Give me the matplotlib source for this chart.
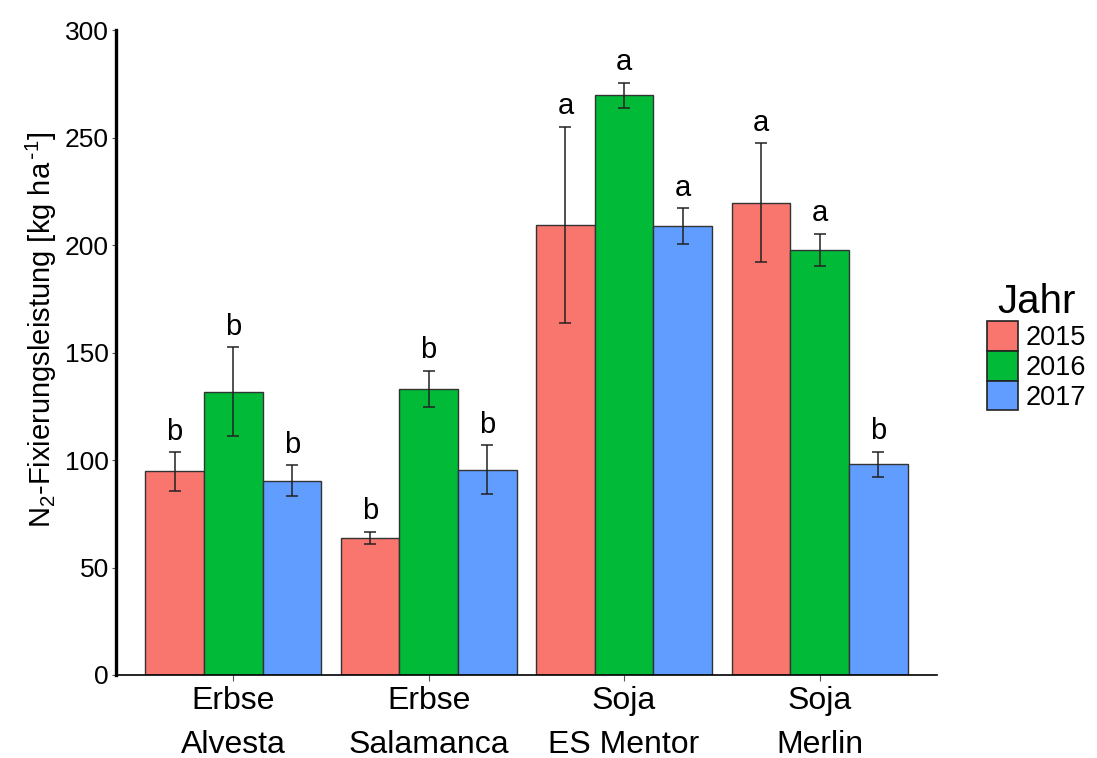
import numpy as np
import matplotlib
matplotlib.use("Agg")
import matplotlib.pyplot as plt
from matplotlib.patches import Patch

plt.rcParams['font.family'] = ['Liberation Sans', 'DejaVu Sans']
plt.rcParams['mathtext.default'] = 'regular'

# data
sorten = ['Erbse\nAlvesta', 'Erbse\nSalamanca', 'Soja\nES Mentor', 'Soja\nMerlin']
jahre = ['2015', '2016', '2017']
farben = ['#F8766D', '#00BA38', '#619CFF']

mittel_2015 = [94.7, 63.8, 209.4, 219.8]
mittel_2016 = [131.9, 133.0, 269.7, 197.8]
mittel_2017 = [90.4, 95.4, 209.0, 98.1]

fehler_2015 = [9.0, 2.9, 45.8, 27.7]
fehler_2016 = [20.7, 8.5, 6.0, 7.5]
fehler_2017 = [7.1, 11.4, 8.3, 5.9]

buchst_2015 = ['b', 'b', 'a', 'a']
buchst_2016 = ['b', 'b', 'a', 'a']
buchst_2017 = ['b', 'b', 'a', 'b']

mittel = [mittel_2015, mittel_2016, mittel_2017]
fehler = [fehler_2015, fehler_2016, fehler_2017]
buchst = [buchst_2015, buchst_2016, buchst_2017]

fig = plt.figure(figsize=(10.97, 7.58), dpi=100)
ax = fig.add_axes([0.1057, 0.1095, 0.854 - 0.1057, 0.960 - 0.1095])

x = np.arange(1, len(sorten) + 1)
breite = 0.3

for i, jahr in enumerate(jahre):
    pos = x + (i - 1) * breite
    ax.bar(pos, mittel[i], width=breite, color=farben[i], edgecolor='#333333',
           linewidth=1.0, zorder=2)
    ax.errorbar(pos, mittel[i], yerr=fehler[i], fmt='none', ecolor='#222222',
                elinewidth=1.1, capsize=4.6, capthick=1.1, zorder=3)
    for p, m, f, b in zip(pos, mittel[i], fehler[i], buchst[i]):
        ax.text(p, m + f + 3, b, ha='center', va='bottom', fontsize=21,
                clip_on=False)

ax.set_xlim(0.4, 4.6)
ax.set_ylim(0, 300)
ax.set_xticks(x)
ax.set_xticklabels(sorten, fontsize=23, linespacing=1.6)
ax.set_yticks([0, 50, 100, 150, 200, 250, 300])
ax.tick_params(axis='y', labelsize=19, length=3, color='#555555', pad=2)
ax.tick_params(axis='x', length=4, color='#555555', pad=4)

ax.spines['top'].set_visible(False)
ax.spines['right'].set_visible(False)
ax.spines['left'].set_linewidth(2.4)
ax.spines['bottom'].set_linewidth(1.2)

ax.set_ylabel(r'N$_2$-Fixierungsleistung [kg ha$^{\,\text{-}1}$]', fontsize=21, labelpad=4)
ax.yaxis.label.set_y(0.535)

handles = [Patch(facecolor=c, edgecolor='#222222', linewidth=1.2) for c in farben]
leg = fig.legend(handles, jahre, title='Jahr', loc='upper left',
                 bbox_to_anchor=(0.887, 0.645), frameon=False, fontsize=19.5,
                 title_fontsize=29, labelspacing=0.0, handlelength=1.15,
                 handleheight=1.32, handletextpad=0.3, borderpad=0)
leg._legend_box.align = 'center'

fig.savefig('out.png', dpi=100)
